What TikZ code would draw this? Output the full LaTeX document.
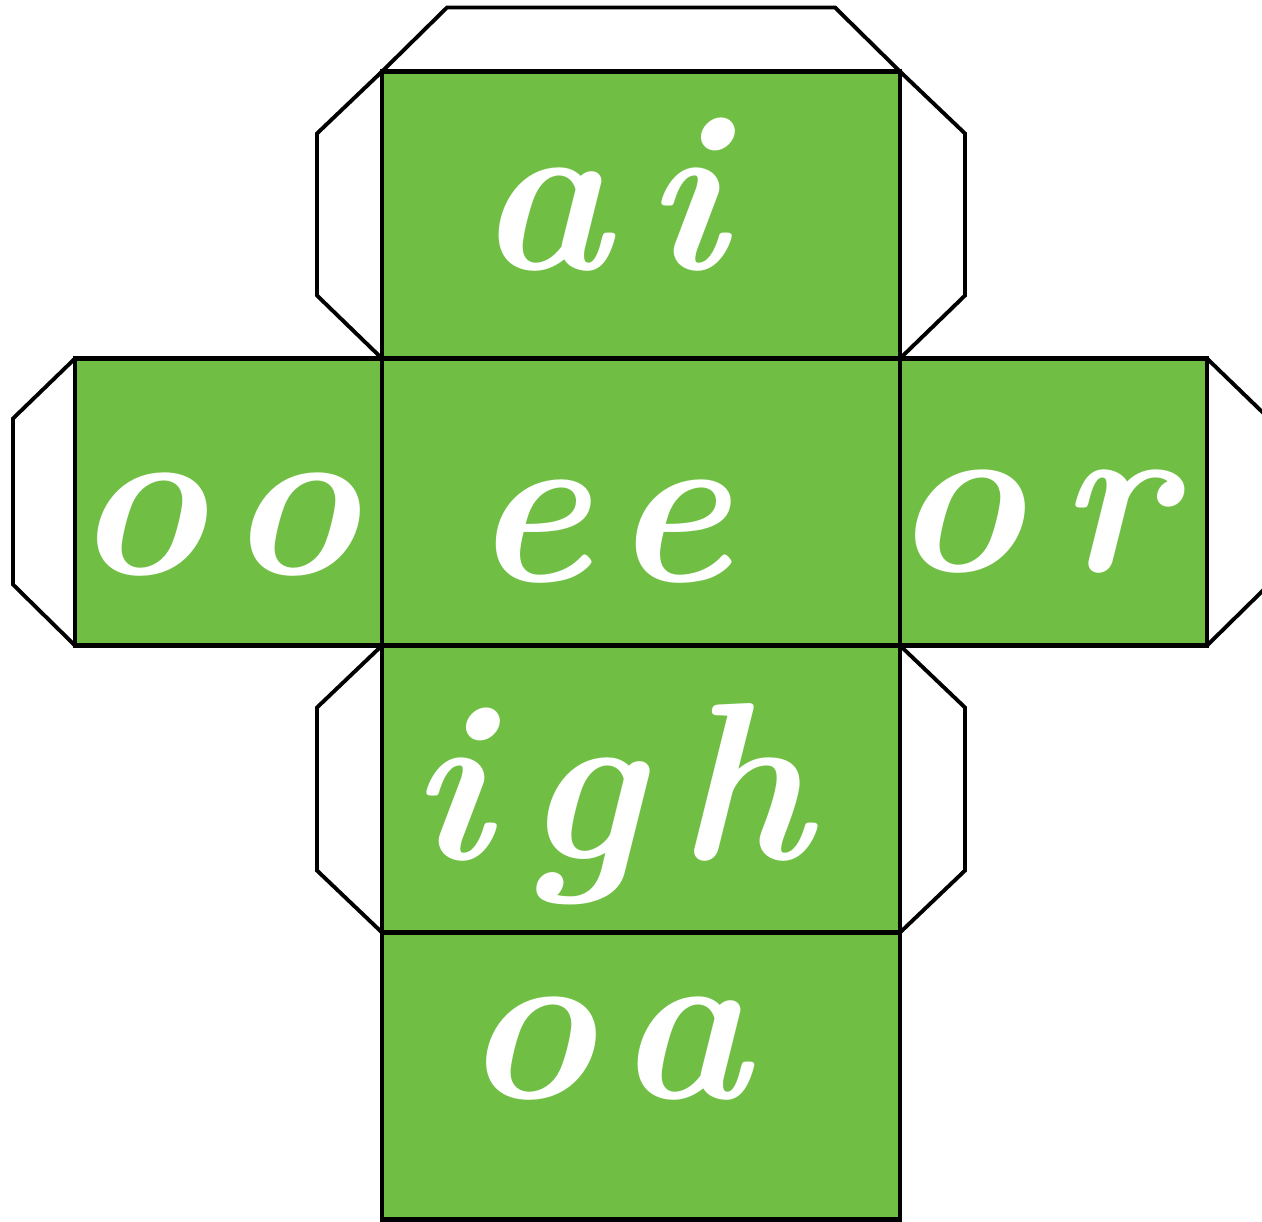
\documentclass[tikz,border=0pt]{standalone}
\usepackage{fontspec}
\usetikzlibrary{positioning}
\newfontfamily\handfont[LetterSpace=15]{Latin Modern Roman}
\definecolor{facegreen}{RGB}{112,191,68}

\begin{document}
\begin{tikzpicture}[
    face/.style={draw=black, line width=1.3pt, fill=facegreen, outer sep=0pt,
      inner sep=0pt, minimum width=5.18cm, minimum height=2.87cm},
    sideface/.style={face, minimum width=3.07cm},
    letters/.style={text=white, inner sep=0pt,
      font=\handfont\bfseries\itshape\fontsize{64}{64}\selectfont},
    tab/.style={draw=black, line width=1.1pt, line join=miter}
  ]

\useasboundingbox (0,0) rectangle (12.62,-12.21);

% Faces of the net
\node[face] (ee) at (6.41,-5.02) {};
\node[face, above=0pt of ee] (ai) {};
\node[sideface, left=0pt of ee] (oo) {};
\node[sideface, right=0pt of ee] (or) {};
\node[face, below=0pt of ee] (igh) {};
\node[face, below=0pt of igh] (oa) {};

% Letters on the faces
\node[letters, xshift=-0.4cm, yshift=0.2cm] (ai-txt) at (ai) {ai};
\node[letters, xshift=-0.4cm, yshift=-0.3cm] (ee-txt) at (ee) {ee};
\node[letters, xshift=-0.12cm, yshift=-0.23cm] (oo-txt) at (oo) {oo};
\node[letters, xshift=-0.22cm, yshift=-0.2cm] (or-txt) at (or) {or};
\node[letters, xshift=-0.31cm, yshift=-0.15cm] (igh-txt) at (igh) {igh};
\node[letters, xshift=-0.35cm, yshift=0.27cm] (oa-txt) at (oa) {oa};

% Glue tabs
\draw[tab] (ai.north west) -- ++(0.65,0.64) -- ++(3.88,0) -- (ai.north east);
\draw[tab] (ai.north west) -- ++(-0.65,-0.62) -- ++(0,-1.62) -- (ai.south west);
\draw[tab] (ai.north east) -- ++(0.65,-0.62) -- ++(0,-1.62) -- (ai.south east);
\draw[tab] (oo.north west) -- ++(-0.62,-0.6) -- ++(0,-1.66) -- (oo.south west);
\draw[tab] (or.north east) -- ++(0.62,-0.6) -- ++(0,-1.66) -- (or.south east);
\draw[tab] (igh.north west) -- ++(-0.65,-0.62) -- ++(0,-1.63) -- (igh.south west);
\draw[tab] (igh.north east) -- ++(0.65,-0.62) -- ++(0,-1.63) -- (igh.south east);

\end{tikzpicture}
\end{document}
